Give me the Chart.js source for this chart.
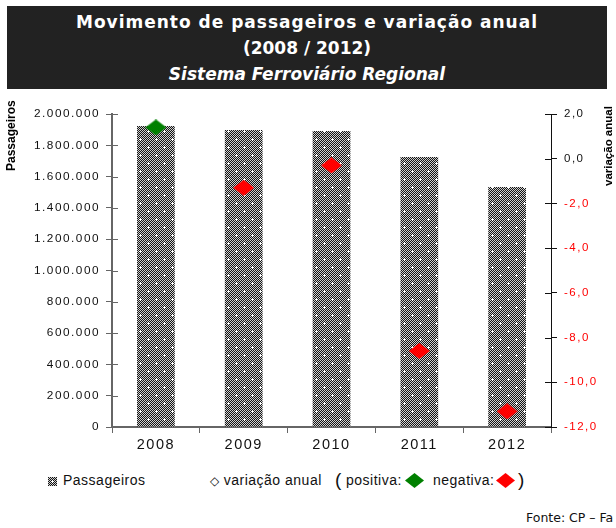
<!DOCTYPE html>
<html>
<head>
<meta charset="utf-8">
<script src="https://cdn.jsdelivr.net/npm/chart.js@4"></script>
<style>
  html, body { margin: 0; padding: 0; background: #fff; }
  body { width: 616px; height: 528px; position: relative; overflow: hidden; }
  #titlebox {
    position: absolute; left: 7px; top: 6px; width: 600px; height: 83px;
    background: #222; color: #fff; text-align: center;
    font-family: "DejaVu Sans", sans-serif; font-weight: bold; font-size: 17px; line-height: 26px;
    padding-top: 3px; box-sizing: border-box;
  }
  #titlebox .l1 { letter-spacing: 1px; }
  #titlebox .sub { font-style: italic; }
  #wrap { position: absolute; left: 0; top: 95px; width: 616px; height: 362px; }
  .ytitle {
    position: absolute; font-family: "Liberation Sans", Arial, sans-serif; font-weight: bold;
    transform-origin: left top; transform: rotate(-90deg); white-space: nowrap; color: #000;
  }
  #legend {
    position: absolute; top: 470px; left: 0; width: 616px; height: 22px;
    font-family: "Liberation Sans", Arial, sans-serif; font-size: 14px; letter-spacing: 0.5px; color: #111;
  }
  #legend span { position: absolute; white-space: nowrap; }
  .dia { display: inline-block; width: 19px; height: 15px;
    clip-path: polygon(50% 0, 100% 50%, 50% 100%, 0 50%); }
  #fonte { position: absolute; left: 526px; top: 510px; white-space: nowrap;
    font-family: "DejaVu Sans", sans-serif; font-size: 12.5px; color: #111; }
</style>
</head>
<body>
<div id="titlebox"><span class="l1">Movimento de passageiros e variação anual</span><br>(2008 / 2012)<br><span class="sub">Sistema Ferroviário Regional</span></div>
<div id="wrap"><canvas id="chart-canvas" width="616" height="362"></canvas></div>
<div class="ytitle" style="left:4px; top:171px; font-size:12px;">Passageiros</div>
<div class="ytitle" style="left:602px; top:186px; font-size:11.5px;">variação anual</div>
<div id="legend">
  <span style="left:48px; top:2px;"><canvas id="lg-icon" width="9" height="9" style="vertical-align:-1px;margin-right:6px"></canvas>Passageiros</span>
  <span style="left:210px; top:2px;"><span style="position:static;font-family:'DejaVu Sans';font-size:12px;margin-right:4px">◇</span>variação anual</span>
  <span style="left:335px; top:-1px; font-size:19px;">(</span>
  <span style="left:346px; top:2px;">positiva:</span>
  <span style="left:405px; top:3px;"><span class="dia" style="position:static;background:#008000"></span></span>
  <span style="left:433px; top:2px;">negativa:</span>
  <span style="left:496px; top:3px;"><span class="dia" style="position:static;background:#ff0000"></span></span>
  <span style="left:518px; top:-1px; font-size:19px;">)</span>
</div>
<div id="fonte">Fonte: CP – Fa</div>
<script>
'use strict';

// ── Data ──
const YEARS       = ['2008', '2009', '2010', '2011', '2012'];
const PASSAGEIROS = [1923000, 1898000, 1891000, 1725000, 1533000];
const VARIACAO    = [1.4, -1.3, -0.3, -8.6, -11.3];
const LEFT_TICKS  = [0, 200000, 400000, 600000, 800000, 1000000, 1200000, 1400000, 1600000, 1800000, 2000000];
const RIGHT_TICKS = [2, 0, -2, -4, -6, -8, -10, -12];

// ── Helpers ──
function fmtThousands(v) {
  return String(Math.round(v)).replace(/\B(?=(\d{3})+(?!\d))/g, '.');
}
function fmtDecimal(v) {
  return v.toFixed(1).replace('.', ',');
}

// checkered fill with white crosses, like the original hatch
function makePatternCanvas() {
  const c = document.createElement('canvas');
  c.width = 16; c.height = 16;
  const g = c.getContext('2d');
  for (let y = 0; y < 16; y++) {
    for (let x = 0; x < 16; x++) {
      g.fillStyle = (x + y) % 2 ? '#cfcfcf' : '#151515';
      g.fillRect(x, y, 1, 1);
    }
  }
  g.fillStyle = '#fff';
  [[4, 4], [12, 12]].forEach(([x, y]) => {
    g.fillRect(x - 1, y, 3, 1);
    g.fillRect(x, y - 1, 1, 3);
  });
  return c;
}

function makeDiamond(color) {
  const c = document.createElement('canvas');
  c.width = 21; c.height = 16;
  const g = c.getContext('2d');
  g.fillStyle = color;
  g.beginPath();
  g.moveTo(10.5, 0); g.lineTo(21, 8); g.lineTo(10.5, 16); g.lineTo(0, 8);
  g.closePath();
  g.fill();
  return c;
}

const patCanvas = makePatternCanvas();
const ctx = document.getElementById('chart-canvas').getContext('2d');
const barPattern = ctx.createPattern(patCanvas, 'repeat');

// legend icon
(function () {
  const lc = document.getElementById('lg-icon').getContext('2d');
  lc.fillStyle = lc.createPattern(patCanvas, 'repeat');
  lc.fillRect(0, 0, 9, 9);
})();

const greenDia = makeDiamond('#008000');
const redDia   = makeDiamond('#ff0000');

// the original tick labels are set wide; widen the canvas text a bit
const wideText = {
  id: 'wideText',
  beforeLayout(chart) { chart.ctx.letterSpacing = '1.5px'; },
  beforeDraw(chart) { chart.ctx.letterSpacing = '1.5px'; },
};

// inner half of the crossing tick marks
const crossTicks = {
  id: 'crossTicks',
  afterDatasetsDraw(chart) {
    const g = chart.ctx;
    const yl = chart.scales.y, yr = chart.scales.y2;
    g.save();
    g.lineWidth = 1;
    g.strokeStyle = '#666';
    LEFT_TICKS.forEach(v => {
      const py = Math.round(yl.getPixelForValue(v)) + 0.5;
      g.beginPath(); g.moveTo(yl.right, py); g.lineTo(yl.right + 6, py); g.stroke();
    });
    g.strokeStyle = '#111';
    RIGHT_TICKS.forEach(v => {
      const py = Math.round(yr.getPixelForValue(v)) + 0.5;
      g.beginPath(); g.moveTo(yr.left - 6, py); g.lineTo(yr.left, py); g.stroke();
    });
    g.restore();
  }
};

new Chart(ctx, {
  data: {
    labels: YEARS,
    datasets: [
      {
        type: 'line',
        label: 'variação anual',
        data: VARIACAO,
        yAxisID: 'y2',
        showLine: false,
        pointStyle: VARIACAO.map(v => v >= 0 ? greenDia : redDia),
        pointRadius: 8,
        order: 0,
      },
      {
        type: 'bar',
        label: 'Passageiros',
        data: PASSAGEIROS,
        yAxisID: 'y',
        backgroundColor: barPattern,
        borderWidth: 0,
        categoryPercentage: 1,
        barPercentage: 0.43,
        order: 1,
      },
    ],
  },
  options: {
    responsive: false,
    animation: false,
    layout: { padding: { top: 19, left: 0, right: 0, bottom: 0 } },
    plugins: { legend: { display: false }, tooltip: { enabled: false } },
    scales: {
      x: {
        offset: true,
        grid: { drawOnChartArea: false, offset: true, tickLength: 6, color: '#666' },
        border: { color: '#666', width: 2 },
        ticks: { color: '#111', font: { family: 'Liberation Sans', size: 14.5 }, padding: 3 },
        afterFit(s) { s.height = 30; },
      },
      y: {
        position: 'left',
        min: 0, max: 2000000,
        afterBuildTicks(s) { s.ticks = LEFT_TICKS.map(v => ({ value: v })); },
        grid: { drawOnChartArea: false, tickLength: 6, color: '#666' },
        border: { color: '#666', width: 2 },
        ticks: {
          color: '#111', padding: 6,
          font: { family: 'Liberation Sans', size: 11.8 },
          callback: v => fmtThousands(v),
        },
        afterFit(s) { s.width = 112; },
      },
      y2: {
        position: 'right',
        min: -12, max: 2,
        afterBuildTicks(s) { s.ticks = RIGHT_TICKS.map(v => ({ value: v })); },
        grid: { drawOnChartArea: false, tickLength: 6, color: '#111' },
        border: { color: '#111', width: 1 },
        ticks: {
          padding: 7,
          font: { family: 'Liberation Sans', size: 11.5 },
          color: c => c.tick && c.tick.value < 0 ? '#ff0000' : '#111',
          callback: v => fmtDecimal(v),
        },
        afterFit(s) { s.width = 65; },
      },
    },
  },
  plugins: [wideText, crossTicks],
});
</script>
</body>
</html>
